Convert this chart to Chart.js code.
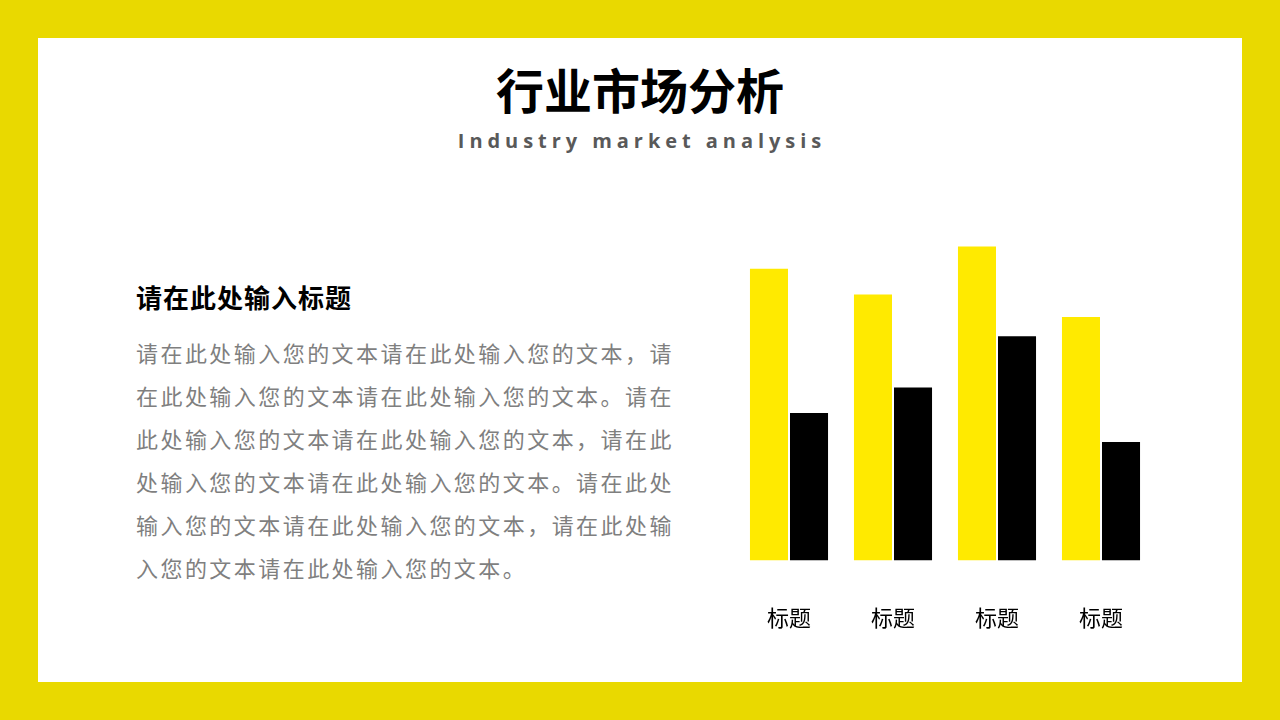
<!DOCTYPE html>
<html lang="zh">
<head>
  <meta charset="UTF-8" />
  <title>行业市场分析</title>
  <script src="https://cdn.jsdelivr.net/npm/chart.js"></script>
  <style>
    html, body { margin: 0; padding: 0; }
    body {
      width: 1280px; height: 720px; background: #E9D900;
      position: relative; overflow: hidden;
      font-family: "Noto Sans CJK SC", "Noto Sans", sans-serif;
    }
    .panel { position: absolute; left: 38px; top: 38px; width: 1204px; height: 644px; background: #fff; }
    .title { position: absolute; left: 0; width: 1280px; top: 58px; text-align: center;
      font-size: 48px; font-weight: bold; color: #000; line-height: 60px; }
    .sub { position: absolute; left: 0; width: 1280px; top: 128px; text-align: center;
      font-family: "Open Sans", sans-serif; font-size: 20px; font-weight: bold; color: #595959;
      letter-spacing: 4.95px; line-height: 26px; padding-left: 4px; box-sizing: border-box; }
    .head { position: absolute; left: 136px; top: 280px; font-size: 26px; font-weight: bold; color: #000;
      line-height: 34px; letter-spacing: 1px; }
    .body { position: absolute; left: 136px; top: 331px; font-size: 22px; color: #7f7f7f;
      line-height: 43px; letter-spacing: 2.45px; white-space: nowrap; }
    #chartBars { position: absolute; left: 737px; top: 240px; }
  </style>
</head>
<body>
  <div class="panel"></div>
  <div class="title">行业市场分析</div>
  <div class="sub">Industry market analysis</div>
  <div class="head">请在此处输入标题</div>
  <div class="body">
    请在此处输入您的文本请在此处输入您的文本，请<br>
    在此处输入您的文本请在此处输入您的文本。请在<br>
    此处输入您的文本请在此处输入您的文本，请在此<br>
    处输入您的文本请在此处输入您的文本。请在此处<br>
    输入您的文本请在此处输入您的文本，请在此处输<br>
    入您的文本请在此处输入您的文本。
  </div>
  <canvas id="chartBars" width="416" height="391"></canvas>

  <script>
    // values (scale 0-100)
    const categories = ['标题', '标题', '标题', '标题'];
    const seriesYellow = [91, 83, 98, 76];
    const seriesBlack  = [46, 54, 70, 37];

    const ctx = document.getElementById('chartBars').getContext('2d');

    const chart = new Chart(ctx, {
      type: 'bar',
      data: {
        labels: categories,
        datasets: [
          { label: '系列1', data: seriesYellow, backgroundColor: '#FFEA00', borderWidth: 0 },
          { label: '系列2', data: seriesBlack,  backgroundColor: '#000000', borderWidth: 0 }
        ]
      },
      options: {
        responsive: false,
        animation: false,
        layout: { padding: 0 },
        categoryPercentage: 0.77,
        barPercentage: 0.95,
        plugins: { legend: { display: false }, tooltip: { enabled: false } },
        scales: {
          x: {
            // invisible tick marks just push the labels down
            grid: { display: true, drawOnChartArea: false, drawTicks: true, tickLength: 44, color: 'rgba(0,0,0,0)' },
            border: { display: false },
            ticks: {
              color: '#000',
              padding: 0,
              font: { family: '"Noto Sans CJK SC", sans-serif', size: 22 }
            }
          },
          y: { display: false, min: 0, max: 100 }
        }
      }
    });
  </script>
</body>
</html>
